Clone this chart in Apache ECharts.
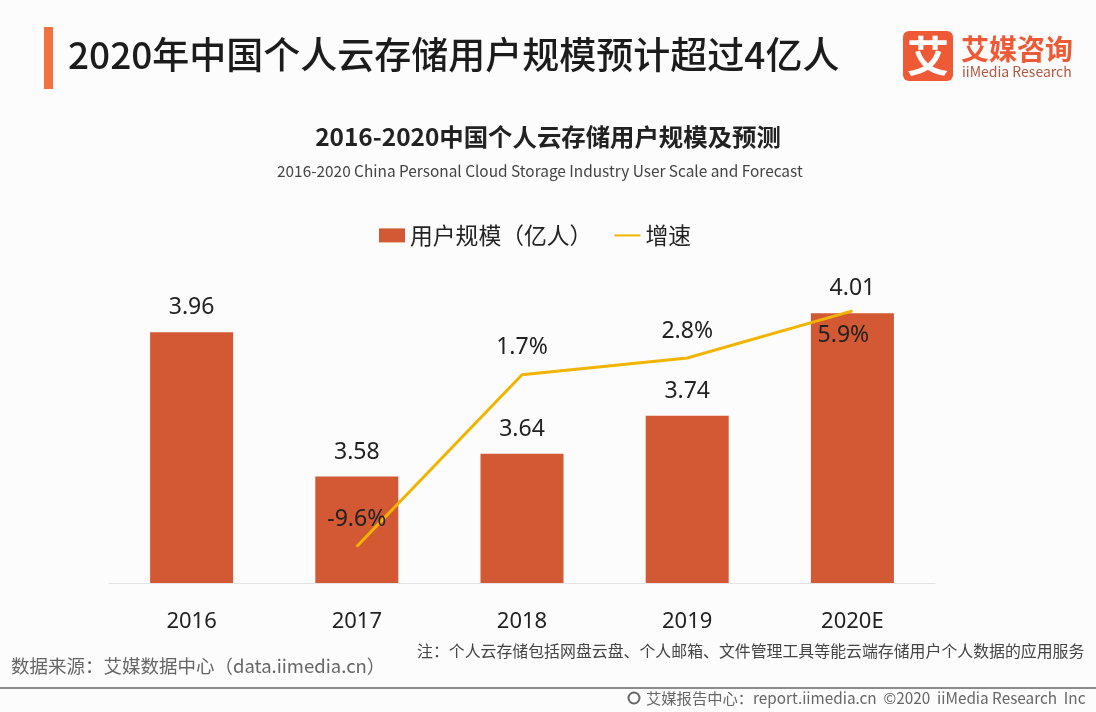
<!DOCTYPE html>
<html>
<head>
<meta charset="utf-8">
<script src="https://cdn.jsdelivr.net/npm/echarts@6/dist/echarts.min.js"></script>
<style>
html,body{margin:0;padding:0;background:#fdfcfd;}
</style>
</head>
<body>
<div id="main" style="width:1096px;height:712px;"></div>
<script type="text/javascript">
var years = ['2016', '2017', '2018', '2019', '2020E'];
var userScale = [3.96, 3.58, 3.64, 3.74, 4.01];
var growth = [null, -9.6, 1.7, 2.8, 5.9];
var seriesNames = ['用户规模（亿人）', '增速'];

var cjk = '"Noto Sans CJK SC", "Noto Sans", sans-serif';
var latin = '"Noto Sans", sans-serif';
var myChart = echarts.init(document.getElementById('main'));

// 最后一个点的标签放在线下方
var growthData = growth.map(function (v, i) {
    if (i === 4) {
        return { value: v, label: { position: 'bottom', distance: 7, offset: [-9, 6] } };
    }
    return { value: v, label: { position: 'top', distance: 15 } };
});

var option = {
    backgroundColor: '#fdfcfd',
    animation: false,
    textStyle: { fontFamily: cjk },
    title: [
        { text: '2020年中国个人云存储用户规模预计超过4亿人', left: 63, top: 31,
          textStyle: { fontFamily: cjk, fontSize: 37, fontWeight: 500, color: '#1c1c1c' } },
        { text: '2016-2020中国个人云存储用户规模及预测', left: 'center', top: 120,
          textStyle: { fontFamily: cjk, fontSize: 24.4, fontWeight: 'bold', color: '#222' } },
        { text: '2016-2020 China Personal Cloud Storage Industry User Scale and Forecast', left: 272, top: 158,
          textStyle: { fontFamily: cjk, fontSize: 15.4, fontWeight: 'normal', color: '#444' } }
    ],
    legend: {
        top: 219,
        left: 374,
        itemWidth: 26,
        itemHeight: 14,
        itemGap: 21,
        textStyle: { fontFamily: cjk, fontSize: 22.8, color: '#222' },
        data: [
            { name: seriesNames[0], icon: 'rect' },
            { name: seriesNames[1], itemStyle: { opacity: 0 } }
        ]
    },
    grid: { left: 109, right: 161, top: 279, bottom: 129 },
    xAxis: {
        type: 'category',
        data: years,
        axisLine: { onZero: false, lineStyle: { color: '#e4e2e2', width: 1 } },
        axisTick: { show: false },
        axisLabel: { fontSize: 22, color: '#222', margin: 28, fontFamily: latin }
    },
    yAxis: [
        { type: 'value', min: 3.3, max: 4.1, show: false, splitLine: { show: false } },
        { type: 'value', min: -12, max: 8, show: false, splitLine: { show: false } }
    ],
    series: [
        {
            name: seriesNames[0],
            type: 'bar',
            barWidth: 83,
            itemStyle: { color: '#d25933' },
            label: { show: true, position: 'top', distance: 13, fontSize: 23, color: '#222', fontFamily: latin },
            data: userScale
        },
        {
            name: seriesNames[1],
            type: 'line',
            yAxisIndex: 1,
            symbol: 'circle',
            symbolSize: 1,
            z: 5,
            lineStyle: { color: '#f1b400', width: 3 },
            itemStyle: { color: '#f1b400' },
            label: { show: true, fontSize: 23, color: '#222', fontFamily: latin,
                     formatter: function (p) { return p.value + '%'; } },
            data: growthData
        }
    ],
    graphic: [
        { type: 'rect', shape: { x: 44, y: 27, width: 9, height: 62 }, style: { fill: '#f0723c' } },
        // logo
        { type: 'rect', shape: { x: 903, y: 31, width: 50, height: 50, r: 6 }, style: { fill: '#ee5a35' } },
        { type: 'text', style: { x: 928, y: 56, text: '艾', align: 'center', verticalAlign: 'middle',
            font: 'bold 42px ' + cjk, fill: '#fff' } },
        { type: 'text', style: { x: 961, y: 49, text: '艾媒咨询', verticalAlign: 'middle',
            font: 'bold 28px ' + cjk, fill: '#ee5a35' } },
        { type: 'text', style: { x: 962, y: 72, text: 'iiMedia Research', verticalAlign: 'middle',
            font: '14px ' + cjk, fill: '#b0573f' } },
        // notes
        { type: 'text', style: { x: 417, y: 651, text: '注：个人云存储包括网盘云盘、个人邮箱、文件管理工具等能云端存储用户个人数据的应用服务',
            verticalAlign: 'middle', font: '15.9px ' + cjk, fill: '#444' } },
        { type: 'text', style: { x: 11, y: 666, text: '数据来源：艾媒数据中心（data.iimedia.cn）',
            verticalAlign: 'middle', font: '18.5px ' + cjk, fill: '#666' } },
        { type: 'line', shape: { x1: 0, y1: 688, x2: 1096, y2: 688 }, style: { stroke: '#8c8c8c', lineWidth: 2 } },
        { type: 'circle', shape: { cx: 634, cy: 698, r: 5.5 }, style: { fill: 'none', stroke: '#666', lineWidth: 2 } },
        { type: 'text', style: { x: 646, y: 698, text: '艾媒报告中心：report.iimedia.cn  ©2020  iiMedia Research  Inc',
            verticalAlign: 'middle', font: '15.3px ' + cjk, fill: '#666' } }
    ]
};
myChart.setOption(option);
</script>
</body>
</html>
